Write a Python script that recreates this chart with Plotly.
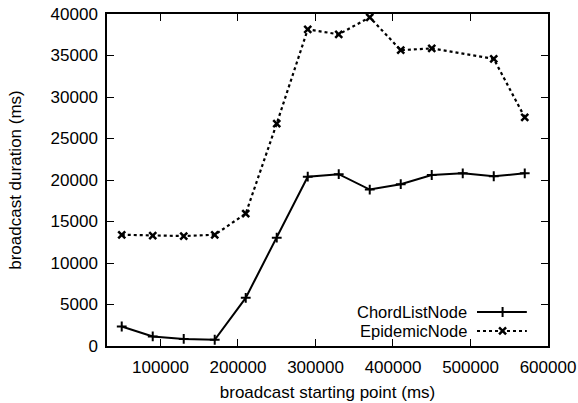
import plotly.graph_objects as go

# Data
chord_x = [50000, 90000, 130000, 170000, 210000, 250000, 290000, 330000,
           370000, 410000, 450000, 490000, 530000, 570000]
chord_y = [2350, 1150, 850, 750, 5800, 13050, 20400, 20700,
           18850, 19500, 20600, 20800, 20450, 20800]

epi_x = [50000, 90000, 130000, 170000, 210000, 250000, 290000, 330000,
         370000, 410000, 450000, 530000, 570000]
epi_y = [13400, 13300, 13250, 13400, 15950, 26800, 38150, 37550,
         39600, 35650, 35850, 34600, 27550]

series_names = ["ChordListNode", "EpidemicNode"]
x_ticks = [100000, 200000, 300000, 400000, 500000, 600000]
y_ticks = [0, 5000, 10000, 15000, 20000, 25000, 30000, 35000, 40000]

FONT = "Liberation Sans, Arial, Helvetica, sans-serif"
FS = 17

chord_marker = dict(symbol="cross-thin", size=7, line=dict(color="black", width=2))
epi_marker = dict(symbol="x-thin", size=7, line=dict(color="black", width=2.5))

fig = go.Figure()
fig.add_trace(go.Scatter(
    x=chord_x, y=chord_y, mode="lines+markers", name=series_names[0],
    line=dict(color="black", width=2), marker=chord_marker, showlegend=False))
fig.add_trace(go.Scatter(
    x=epi_x, y=epi_y, mode="lines+markers", name=series_names[1],
    line=dict(color="black", width=2.2, dash="dot"), marker=epi_marker,
    showlegend=False))

# Gnuplot-style legend (text right, sample to its right) on a hidden overlay axis
leg_rows = [0.1024, 0.0452]
leg_x0, leg_x1, leg_xm, leg_txt = 0.839, 0.952, 0.897, 0.818
fig.add_trace(go.Scatter(
    x=[leg_x0, leg_x1], y=[leg_rows[0], leg_rows[0]], xaxis="x2", yaxis="y2",
    mode="lines", line=dict(color="black", width=2), showlegend=False, hoverinfo="skip"))
fig.add_trace(go.Scatter(
    x=[leg_xm], y=[leg_rows[0]], xaxis="x2", yaxis="y2", mode="markers",
    marker=chord_marker, showlegend=False, hoverinfo="skip"))
fig.add_trace(go.Scatter(
    x=[leg_x0, leg_x1], y=[leg_rows[1], leg_rows[1]], xaxis="x2", yaxis="y2",
    mode="lines", line=dict(color="black", width=2.2, dash="dot"),
    showlegend=False, hoverinfo="skip"))
fig.add_trace(go.Scatter(
    x=[leg_xm], y=[leg_rows[1]], xaxis="x2", yaxis="y2", mode="markers",
    marker=epi_marker, showlegend=False, hoverinfo="skip"))
for name, yy in zip(series_names, leg_rows):
    fig.add_annotation(x=leg_txt, y=yy, xref="paper", yref="paper", text=name,
                       showarrow=False, xanchor="right", yanchor="middle",
                       borderpad=0,
                       font=dict(family=FONT, size=16.5, color="black"))

axis_common = dict(showgrid=False, zeroline=False, showline=True, linecolor="black",
                   linewidth=1.5, mirror="ticks", ticks="inside", ticklen=7,
                   tickwidth=1.2, tickcolor="black", automargin=False,
                   tickfont=dict(family=FONT, size=FS, color="black"))

fig.update_layout(
    width=578, height=403,
    margin=dict(l=107, r=30, t=14, b=57),
    paper_bgcolor="white", plot_bgcolor="white",
    font=dict(family=FONT, size=FS, color="black"),
    xaxis=dict(range=[31000, 600000], tickvals=x_ticks,
               ticktext=[str(v) for v in x_ticks],
               title=dict(text="broadcast starting point (ms)", standoff=10,
                          font=dict(family=FONT, size=FS)),
               ticklabelstandoff=5, **axis_common),
    yaxis=dict(range=[0, 40000], tickvals=y_ticks,
               ticktext=[str(v) for v in y_ticks],
               title=dict(text="broadcast duration (ms)", standoff=25,
                          font=dict(family=FONT, size=FS)),
               ticklabelstandoff=4, **axis_common),
    xaxis2=dict(overlaying="x", range=[0, 1], visible=False),
    yaxis2=dict(overlaying="y", range=[0, 1], visible=False),
)

fig.write_html("out.html")
